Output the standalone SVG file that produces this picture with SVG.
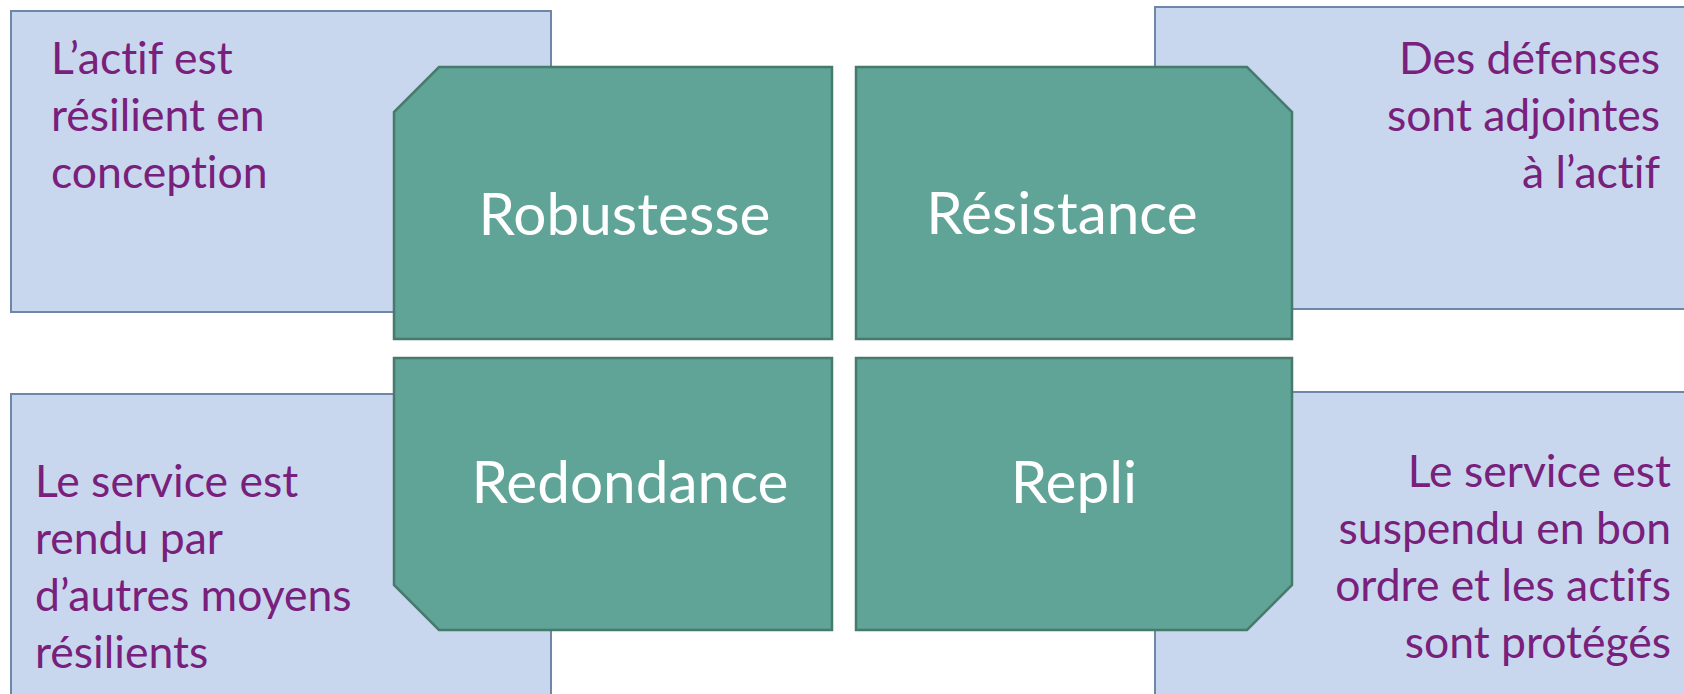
<svg xmlns="http://www.w3.org/2000/svg" width="1684" height="694" viewBox="0 0 1684 694">
<style>
.box{fill:#C9D7EE;stroke:#6E86A8;stroke-width:2}
.oct{fill:#60A497;stroke:#467A6C;stroke-width:2.5}
text{font-variant-ligatures:none}
.lbl{font-family:"Lato","Open Sans",sans-serif;font-size:58.5px;fill:#FFFFFF}
.desc{font-family:"Lato","Open Sans",sans-serif;font-size:44.5px;fill:#78207C}
.r{text-anchor:end}
</style>
<rect width="1684" height="694" fill="#FFFFFF"/>
<g id="desc-robustesse">
<rect class="box" x="11" y="11" width="540" height="301"/>
<text class="desc"><tspan x="51" y="74">L’actif est</tspan><tspan x="51" y="131">résilient en</tspan><tspan x="51" y="188">conception</tspan></text>
</g>
<g id="desc-resistance">
<rect class="box" x="1155" y="7" width="560" height="302"/>
<text class="desc r"><tspan x="1660" y="74">Des défenses</tspan><tspan x="1660" y="131">sont adjointes</tspan><tspan x="1660" y="188">à l’actif</tspan></text>
</g>
<g id="desc-redondance">
<rect class="box" x="11" y="394" width="540" height="320"/>
<text class="desc"><tspan x="35" y="497">Le service est</tspan><tspan x="35" y="554">rendu par</tspan><tspan x="35" y="611">d’autres moyens</tspan><tspan x="35" y="668">résilients</tspan></text>
</g>
<g id="desc-repli">
<rect class="box" x="1155" y="392" width="560" height="320"/>
<text class="desc r"><tspan x="1671" y="487">Le service est</tspan><tspan x="1671" y="544">suspendu en bon</tspan><tspan x="1671" y="601">ordre et les actifs</tspan><tspan x="1671" y="658">sont protégés</tspan></text>
</g>
<g id="robustesse">
<path class="oct" d="M439,67 L832,67 L832,339 L394,339 L394,112 Z"/>
<text class="lbl" x="624.5" y="235" text-anchor="middle">Robustesse</text>
</g>
<g id="resistance">
<path class="oct" d="M856,67 L1247,67 L1292,112 L1292,339 L856,339 Z"/>
<text class="lbl" x="1062" y="234" text-anchor="middle">Résistance</text>
</g>
<g id="redondance">
<path class="oct" d="M394,358 L832,358 L832,630 L439,630 L394,585 Z"/>
<text class="lbl" x="630" y="503" text-anchor="middle">Redondance</text>
</g>
<g id="repli">
<path class="oct" d="M856,358 L1292,358 L1292,585 L1247,630 L856,630 Z"/>
<text class="lbl" x="1074" y="503" text-anchor="middle">Repli</text>
</g>
<g id="connectors"/>
</svg>
